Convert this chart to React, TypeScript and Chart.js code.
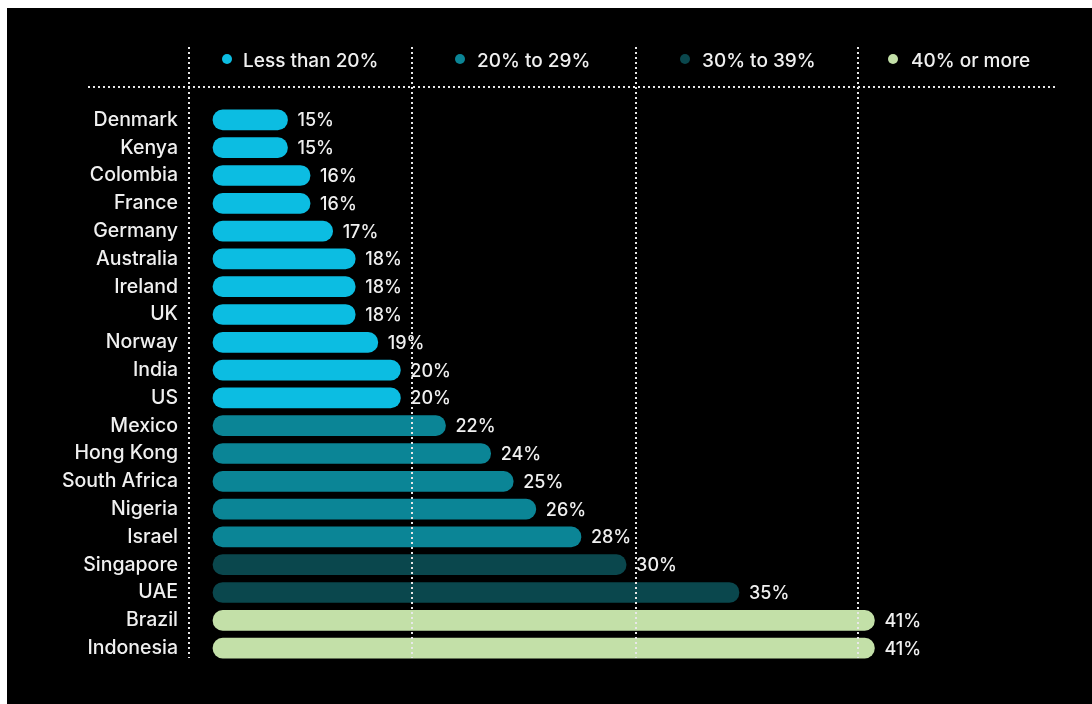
import { useEffect, useRef } from "react";
import { Chart, registerables } from "chart.js";

Chart.register(...registerables);

const countries = [
  "Denmark", "Kenya", "Colombia", "France", "Germany", "Australia", "Ireland", "UK", "Norway", "India",
  "US", "Mexico", "Hong Kong", "South Africa", "Nigeria", "Israel", "Singapore", "UAE", "Brazil", "Indonesia",
];
const shares = [15, 15, 16, 16, 17, 18, 18, 18, 19, 20, 20, 22, 24, 25, 26, 28, 30, 35, 41, 41];

const bandLabels = ["Less than 20%", "20% to 29%", "30% to 39%", "40% or more"];
// lower bound of each colour band as drawn (20% itself is drawn in the first colour)
const bandMins = [0, 21, 30, 40];
const bandColors = ["#0cbde2", "#0b8596", "#0a474d", "#c3e0a8"];

const X_MIN = 11.7;
const X_MAX = 49;

const FONT = "Inter, 'Noto Sans', sans-serif";
const TEXT = "#f0f0f0";

function bandOf(v: number): number {
  let b = 0;
  bandMins.forEach((m, i) => {
    if (v >= m) b = i;
  });
  return b;
}

const decor = {
  id: "decor",
  afterDatasetsDraw(chart: any) {
    const ctx = chart.ctx as CanvasRenderingContext2D;
    const meta = chart.getDatasetMeta(0);
    ctx.save();
    // value labels
    ctx.font = `500 18px ${FONT}`;
    ctx.fillStyle = TEXT;
    ctx.textBaseline = "middle";
    ctx.textAlign = "left";
    meta.data.forEach((bar: any, i: number) => {
      ctx.fillText(shares[i] + "%", bar.x + 10, bar.y + 1);
    });

    // dotted guide lines
    ctx.strokeStyle = "#e8e8e8";
    ctx.lineWidth = 2;
    ctx.setLineDash([2, 3]);
    const dividers = [182, 405, 629, 851];
    dividers.forEach((x) => {
      ctx.beginPath();
      ctx.moveTo(x, 39);
      ctx.lineTo(x, 650);
      ctx.stroke();
    });
    ctx.beginPath();
    ctx.moveTo(81, 79);
    ctx.lineTo(1048, 79);
    ctx.stroke();
    ctx.setLineDash([]);

    // legend
    const dotX = [220, 453, 678, 886];
    const textX = [236, 470, 695, 904];
    bandLabels.forEach((lab, i) => {
      ctx.fillStyle = bandColors[i];
      ctx.beginPath();
      ctx.arc(dotX[i], 51, 5, 0, Math.PI * 2);
      ctx.fill();
      ctx.fillStyle = TEXT;
      ctx.font = `500 19px ${FONT}`;
      ctx.fillText(lab, textX[i], 53);
    });
    ctx.restore();
  },
};

export default function App() {
  const ref = useRef<HTMLCanvasElement | null>(null);

  useEffect(() => {
    if (!ref.current) return;
    const chart = new Chart(ref.current, {
      type: "bar",
      data: {
        labels: countries,
        datasets: [
          {
            data: shares.map((v) => [X_MIN, v]),
            backgroundColor: shares.map((v) => bandColors[bandOf(v)]),
            borderWidth: 0,
            borderRadius: { topLeft: 10, topRight: 10, bottomLeft: 10, bottomRight: 10 },
            borderSkipped: false,
            barThickness: 20,
            clip: false,
          } as any,
        ],
      },
      options: {
        indexAxis: "y",
        responsive: false,
        animation: false,
        layout: { padding: { top: 98, bottom: 42, left: 35, right: 37 } },
        plugins: {
          legend: { display: false },
          tooltip: { enabled: false },
        },
        scales: {
          x: { display: false, min: X_MIN, max: X_MAX },
          y: {
            grid: { display: false, drawTicks: false },
            border: { display: false },
            ticks: {
              color: TEXT,
              padding: 35,
              font: { family: FONT, size: 19.5, weight: 500 },
            },
            afterFit: (scale: any) => {
              scale.width = 171;
              scale.paddingTop = 0;
              scale.paddingBottom = 0;
            },
          },
        },
      },
      plugins: [decor],
    });
    return () => chart.destroy();
  }, []);

  return (
    <div
      style={{
        position: "fixed",
        left: 7,
        top: 8,
        width: 1085,
        height: 696,
        background: "#000",
      }}
    >
      <canvas ref={ref} width={1085} height={696} style={{ display: "block" }} />
    </div>
  );
}
